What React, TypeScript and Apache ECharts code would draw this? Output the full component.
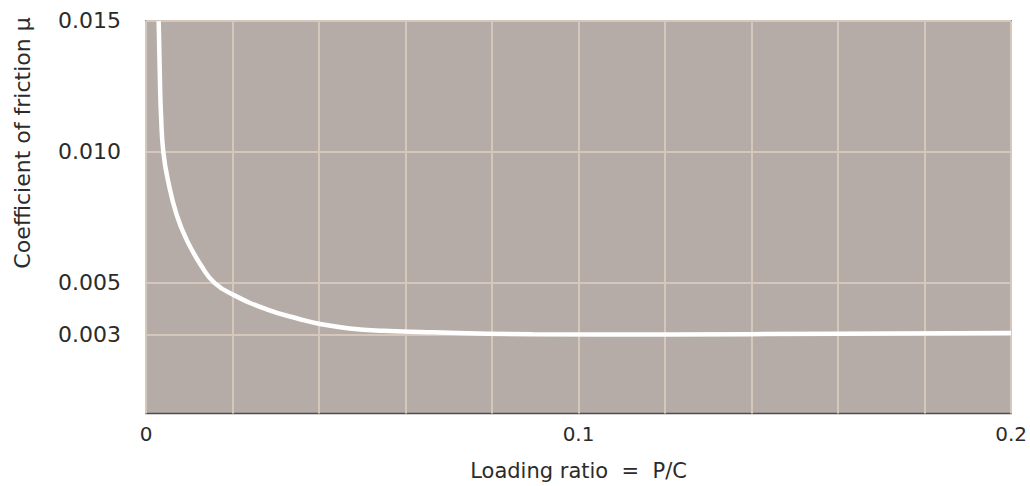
import React, { useEffect, useRef } from "react";
import * as echarts from "echarts";

// Loading ratio P/C (x) and coefficient of friction μ (y)
const loadingRatio = [0.00293, 0.00323, 0.00347, 0.004, 0.00515, 0.0071, 0.0094, 0.0129, 0.0159, 0.0202, 0.0279, 0.0356, 0.0402, 0.0471, 0.0548, 0.0664, 0.0894, 0.12, 0.16, 0.2];
const friction = [0.01498, 0.01267, 0.0114, 0.01, 0.00885, 0.00758, 0.00663, 0.00561, 0.00498, 0.00453, 0.00398, 0.0036, 0.00342, 0.00325, 0.00316, 0.0031, 0.00303, 0.00302, 0.00305, 0.00307];

const yTickValues = [0.003, 0.005, 0.01, 0.015];
const xLabelValues = [0, 0.1, 0.2];
const xAxisTitle = "Loading ratio  =  P/C";
const yAxisTitle = "Coefficient of friction μ";

const FONT = "DejaVu Sans";

export default function App() {
  const ref = useRef<HTMLDivElement>(null);
  useEffect(() => {
    document.body.style.margin = "0";
    const chart = echarts.init(ref.current!, undefined, { renderer: "svg" });
    chart.setOption({
      animation: false,
      backgroundColor: "#ffffff",
      grid: {
        left: 146,
        top: 20.7,
        width: 865.7,
        height: 393,
        show: true,
        backgroundColor: "#b6aca7",
        borderColor: "#4d4d4d",
        borderWidth: 1.5,
      },
      xAxis: {
        type: "value",
        min: 0,
        max: 0.2,
        interval: 0.02,
        axisLine: { show: false },
        axisTick: { show: false },
        axisLabel: {
          customValues: xLabelValues,
          formatter: (v: number) => String(v),
          color: "#2b2b2b",
          fontFamily: FONT,
          fontSize: 20,
          margin: 10,
        },
        splitLine: { show: true, lineStyle: { color: "#d5c7bc", width: 2 } },
        name: xAxisTitle,
        nameLocation: "middle",
        nameGap: 57,
        nameTextStyle: { color: "#2b2b2b", fontFamily: FONT, fontSize: 21, verticalAlign: "middle" },
      },
      yAxis: {
        type: "value",
        min: 0,
        max: 0.015,
        axisLine: { show: false },
        axisTick: { show: false, customValues: yTickValues },
        axisLabel: {
          customValues: yTickValues,
          formatter: (v: number) => v.toFixed(3),
          color: "#2b2b2b",
          fontFamily: FONT,
          fontSize: 22,
          margin: 25,
        },
        splitLine: { show: true, lineStyle: { color: "#d5c7bc", width: 2 } },
      },
      graphic: [
        {
          type: "text",
          x: 22,
          y: 143,
          rotation: Math.PI / 2,
          style: {
            text: yAxisTitle,
            fill: "#2b2b2b",
            font: `22px "${FONT}"`,
            align: "center",
            verticalAlign: "middle",
          },
        },
      ],
      series: [
        {
          type: "line",
          data: loadingRatio.map((x, i) => [x, friction[i]]),
          smooth: 0.5,
          showSymbol: false,
          symbol: "none",
          lineStyle: { color: "#ffffff", width: 4.5 },
          clip: true,
        },
      ],
    });
    return () => chart.dispose();
  }, []);
  return <div ref={ref} style={{ width: 1030, height: 486 }} />;
}
